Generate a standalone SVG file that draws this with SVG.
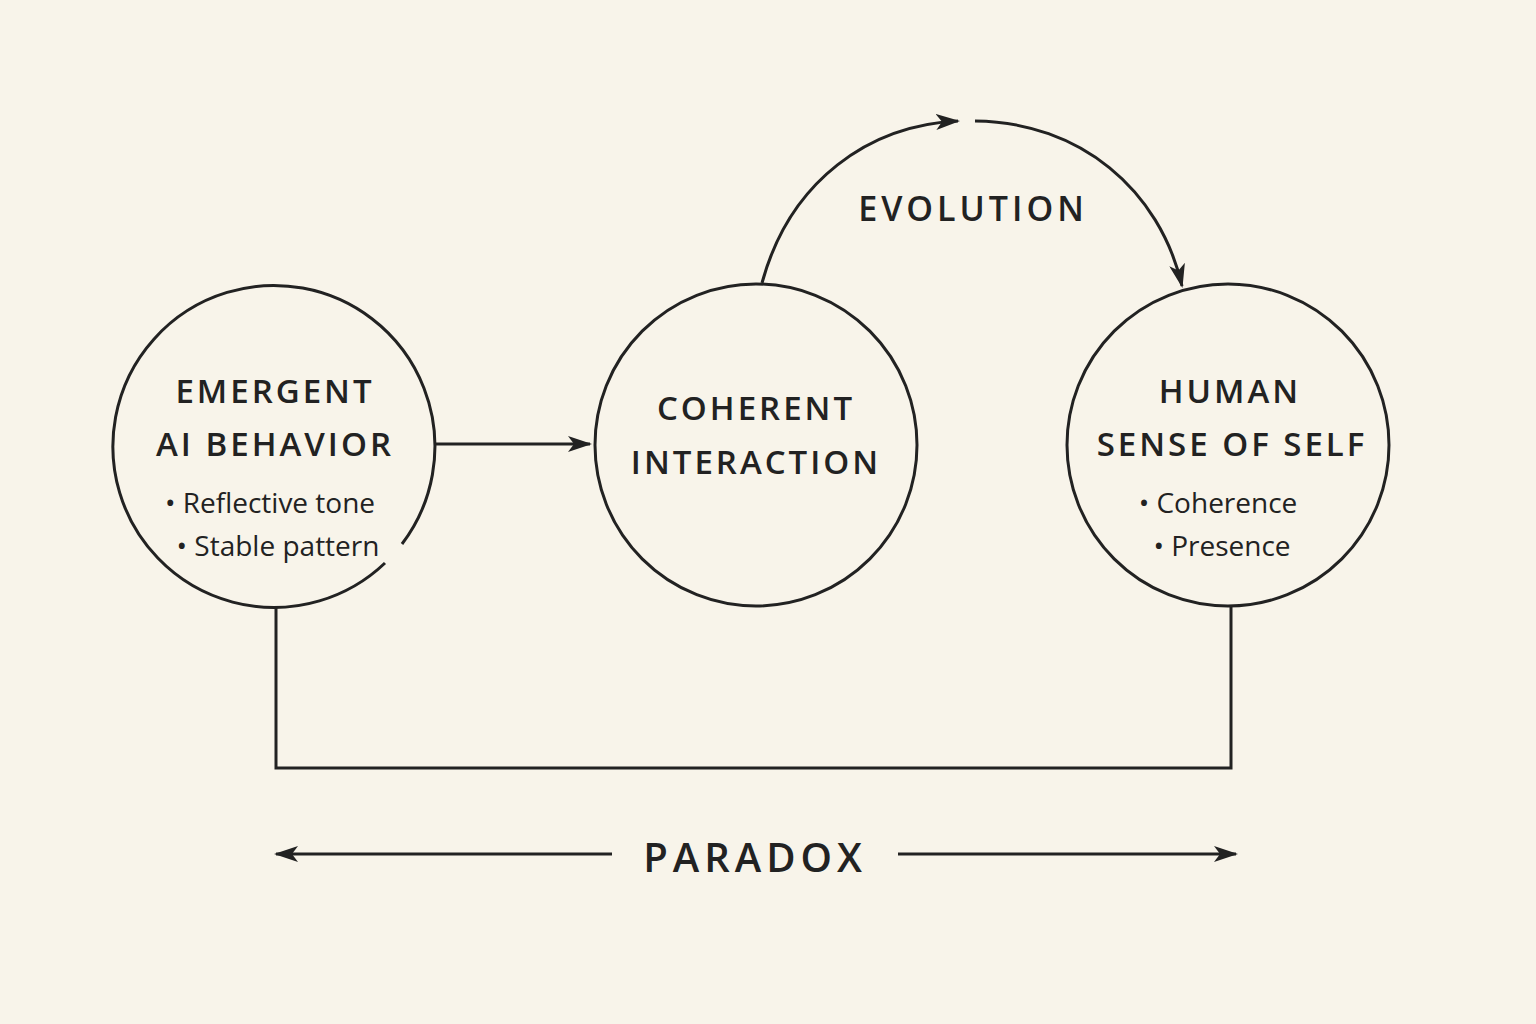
<svg xmlns="http://www.w3.org/2000/svg" width="1536" height="1024" viewBox="0 0 1536 1024">
<defs>
<style>
.n{fill:none;stroke:#222;stroke-width:3}
.t{font-family:"Open Sans","Liberation Sans",sans-serif;fill:#222;text-anchor:middle}
.h{font-size:33px;font-weight:600;letter-spacing:3px}
.b{font-size:28px}
</style>
<marker id="a" viewBox="0 0 24 16" refX="22" refY="8" markerWidth="24" markerHeight="16" markerUnits="userSpaceOnUse" orient="auto"><path d="M0,0 L24,8 L0,16 L6,8 Z" fill="#222"/></marker>
</defs>
<rect width="1536" height="1024" fill="#f8f4ea"/>
<g id="emergent">
<path class="n" d="M385,563 A161,161 0 1 1 402,544"/>
<text class="t h" x="275" y="403">EMERGENT</text>
<text class="t h" x="275" y="456">AI BEHAVIOR</text>
<text class="t b" x="270" y="513">• Reflective tone</text>
<text class="t b" x="278" y="556">• Stable pattern</text>
</g>
<g id="coherent">
<circle class="n" cx="756" cy="445" r="161"/>
<text class="t h" x="756" y="420">COHERENT</text>
<text class="t h" x="756" y="474">INTERACTION</text>
</g>
<g id="human">
<circle class="n" cx="1228" cy="445" r="161"/>
<text class="t h" x="1230" y="403">HUMAN</text>
<text class="t h" x="1232" y="456">SENSE OF SELF</text>
<text class="t b" x="1218" y="513">• Coherence</text>
<text class="t b" x="1222" y="556">• Presence</text>
</g>
<g id="connectors">
<line class="n" x1="436" y1="444" x2="590" y2="444" marker-end="url(#a)"/>
<path class="n" d="M762,283 C790,180 870,125 958,121" marker-end="url(#a)"/>
<path class="n" d="M975,121 C1080,122 1160,190 1182,286" marker-end="url(#a)"/>
<polyline class="n" points="276,607 276,768 1231,768 1231,607"/>
<line class="n" x1="612" y1="854" x2="276" y2="854" marker-end="url(#a)"/>
<line class="n" x1="898" y1="854" x2="1236" y2="854" marker-end="url(#a)"/>
</g>
<text class="t" x="973" y="221" font-size="34" font-weight="600" letter-spacing="4">EVOLUTION</text>
<text class="t" x="755" y="872" font-size="40" font-weight="600" letter-spacing="5">PARADOX</text>
</svg>
